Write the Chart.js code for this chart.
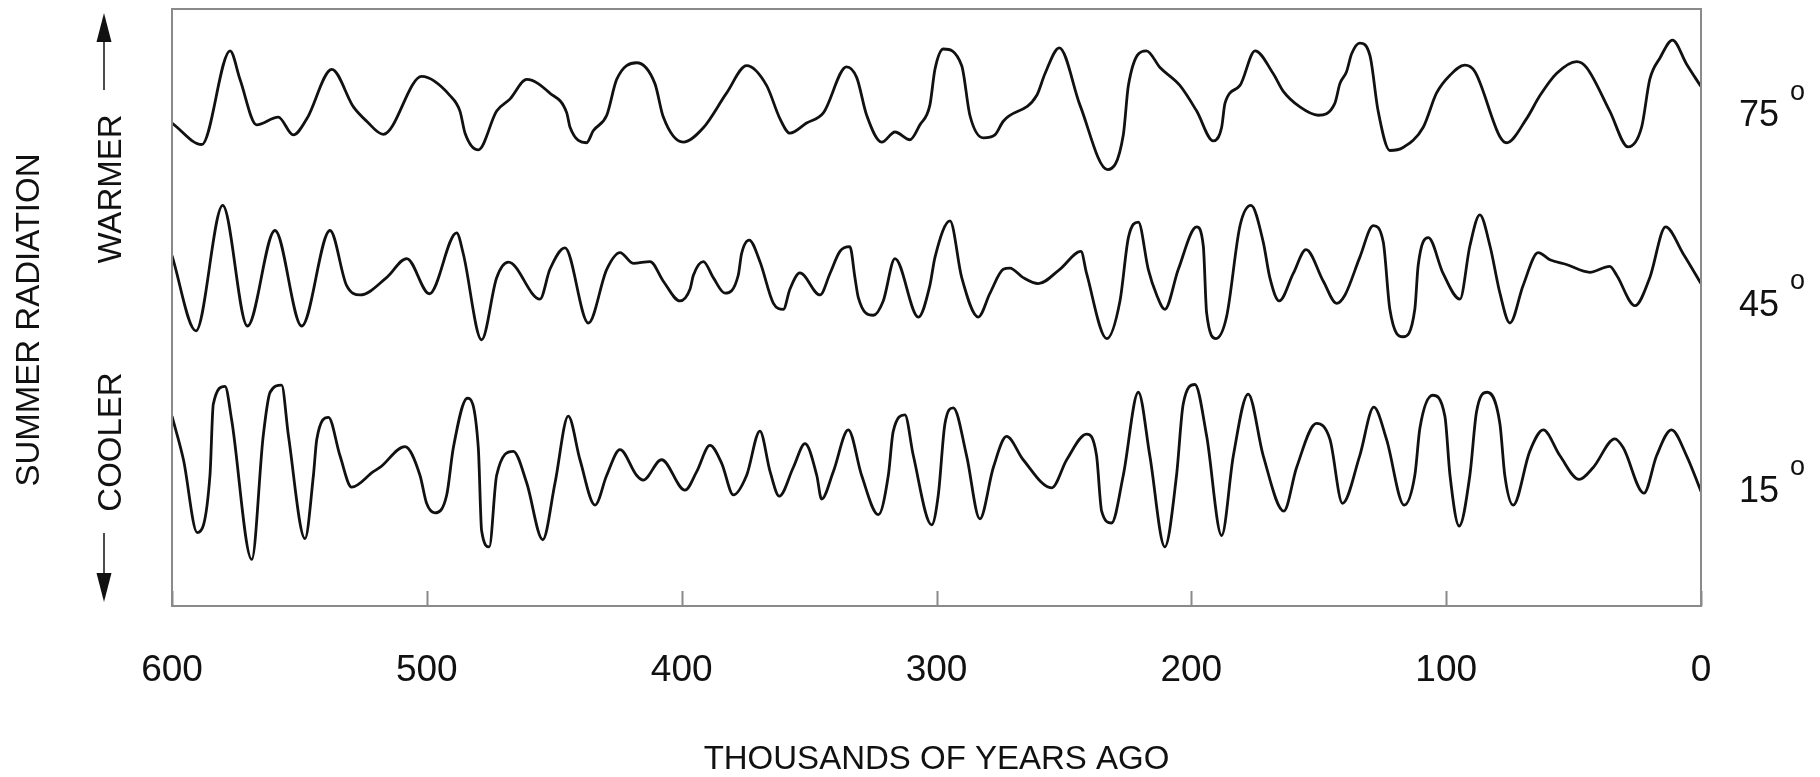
<!DOCTYPE html>
<html>
<head>
<meta charset="utf-8">
<title>Summer radiation</title>
<script src="https://cdn.jsdelivr.net/npm/chart.js@4.4.1/dist/chart.umd.min.js"></script>
<style>
  html,
  body {
    margin: 0;
    padding: 0;
    background: #ffffff;
  }
</style>
</head>
<body>
<canvas id="radiationChart" width="1820" height="777"></canvas>
<script>
// =========================
// 데이터 (천 년 전 / 상대 복사량)
// =========================
const ages75 = [
  600, 588.3, 577.2, 573.3, 566.8, 558.3, 552.4, 547.1, 537.3, 528.8, 523.6, 517.1, 502.0, 490.9, 487.0, 485.0, 479.8, 472.6, 467.4, 460.8, 451.7,
  445.1, 443.8, 437.3, 434.7, 429.4, 425.5, 417.7, 410.5, 407.2, 399.4, 391.5, 382.4, 374.5, 366.7, 361.4, 357.5, 351.0, 344.4, 335.3, 331.3, 327.4, 321.5, 316.3, 310.4,
  306.5, 302.6, 300.6, 297.3, 290.1, 286.9, 281.6, 277.1, 273.8, 260.7, 257.4, 251.8, 243.7, 232.9, 226.7, 224.7, 217.6, 212.3, 204.5, 197.9, 191.4, 188.1, 186.8, 180.9, 175.0, 167.9, 163.9, 157.4,
  150.2, 143.7, 141.7, 139.1, 137.1, 133.9, 129.9, 126.7, 122.1, 116.9, 109.0, 103.8, 98.5, 92.7, 88.7, 78.9, 76.3, 68.5, 63.2, 56.7, 48.8, 44.9, 35.8, 28.6, 23.3, 20.1, 16.1, 11.2, 5.7, 0,
];
const radiation75 = [
  80.9, 77.3, 93.0, 88.2, 80.6, 81.9, 78.9, 81.6, 89.9, 83.6, 81.2, 79.0, 88.7, 85.5, 82.9, 79.2, 76.4, 82.9, 84.9, 88.2, 85.9,
  82.6, 80.2, 77.6, 79.6, 82.2, 88.2, 91.0, 87.5, 81.9, 77.7, 80.1, 85.9, 90.5, 87.2, 81.6, 79.2, 80.9, 82.6, 90.3, 88.5, 82.2, 77.7, 79.4, 78.1,
  80.6, 83.9, 89.9, 93.3, 90.5, 82.2, 78.4, 78.9, 81.2, 85.5, 89.2, 93.5, 83.9, 73.1, 78.9, 87.2, 93.0, 90.2, 87.2, 82.9, 77.9, 80.2, 84.2, 87.2, 93.0, 89.2, 86.2, 83.6,
  82.2, 84.2, 87.5, 89.5, 92.5, 94.3, 92.2, 82.9, 76.3, 76.8, 80.2, 85.9, 88.9, 90.6, 89.5, 78.6, 77.6, 81.6, 85.5, 89.2, 91.2, 90.2, 82.9, 76.9, 80.2, 88.2, 91.8, 94.8, 90.8, 87.0,
];

const ages45 = [
  600, 590.6, 580.1, 570.4, 559.6, 549.1, 538.0, 531.5, 526.2, 515.8, 507.9, 499.0, 488.3, 485.7, 478.5, 472.6, 468.0, 455.6,
  451.7, 445.8, 436.6, 429.4, 424.2, 419.0, 412.4, 407.2, 400.7, 396.7, 395.4, 391.5, 387.6, 383.0, 377.8, 376.5, 373.5, 369.3, 364.0, 360.1, 357.5, 353.6, 345.7, 341.8, 337.9, 334.0, 332.0, 330.7, 324.8, 320.9, 316.3, 307.1,
  302.6, 300.6, 294.7, 290.1, 283.6, 279.0, 273.8, 271.2, 266.0, 260.1, 251.6, 243.3, 241.1, 233.2, 228.0, 224.7, 220.8, 216.9, 213.6, 210.4, 205.1, 197.9, 195.3, 194.0, 190.3, 186.2, 180.9, 176.6, 171.8, 169.2, 165.5, 160.0, 155.0,
  148.2, 143.0, 139.7, 133.9, 128.6, 124.7, 122.1, 116.9, 112.3, 111.0, 107.0, 101.2, 94.6, 90.7, 86.8, 82.8, 78.9, 75.0, 69.8, 63.9, 59.3, 52.8, 43.6, 35.8, 33.1, 25.9, 20.1, 13.9, 7.0, 0,
];
const radiation45 = [
  58.7, 46.1, 67.1, 46.9, 62.9, 46.9, 62.9, 53.7, 52.1, 55.0, 58.2, 52.3, 62.5, 59.0, 44.6, 55.0, 57.6, 51.4,
  56.4, 60.0, 47.4, 56.4, 59.2, 57.4, 57.7, 54.4, 51.1, 53.1, 55.4, 57.7, 55.0, 52.4, 55.4, 59.0, 61.3, 57.7, 50.7, 49.7, 53.1, 55.8, 52.1, 55.7, 59.4, 60.2, 55.0, 51.7, 48.7, 51.1, 58.2, 48.4,
  53.7, 58.4, 64.5, 55.0, 48.4, 52.4, 56.4, 56.6, 55.0, 54.0, 56.4, 59.4, 55.7, 44.8, 51.1, 61.7, 64.3, 56.4, 52.1, 49.7, 56.4, 63.5, 60.3, 49.1, 44.8, 48.4, 63.7, 67.1, 61.0, 55.0, 51.1, 55.7, 59.7,
  54.4, 50.7, 52.1, 58.4, 63.7, 61.0, 49.7, 45.1, 49.7, 57.0, 61.7, 55.7, 51.4, 60.3, 65.5, 60.3, 52.4, 47.4, 53.7, 59.2, 58.0, 57.2, 55.9, 56.9, 55.4, 50.3, 55.0, 63.5, 59.0, 54.0,
];

const ages15 = [
  600, 595.5, 590.1, 585.1, 583.8, 579.2, 576.6, 568.7, 564.2, 561.5, 557.0, 554.3, 547.8, 544.5, 543.2, 538.6, 534.1, 529.5, 521.0, 518.4, 508.6, 502.7, 500.1, 496.8, 492.2, 489.6, 484.1, 479.8, 478.5, 475.5, 472.6, 466.1, 460.8, 454.5,
  449.7, 444.5, 439.9, 434.0, 429.4, 424.2, 417.7, 415.1, 407.9, 398.7, 394.1, 388.9, 384.3, 379.7, 374.5, 369.3, 365.3, 361.7, 356.2, 351.6, 347.0, 345.1, 340.5, 334.6, 329.4, 322.8, 318.9, 317.0, 312.4, 309.1, 301.9,
  299.3, 296.7, 293.4, 288.2, 283.0, 277.7, 272.5, 266.0, 254.8, 248.9, 241.1, 237.2, 235.2, 231.3, 226.7, 220.8, 216.3, 210.4, 205.8, 203.2, 198.6, 194.0, 188.1, 183.5, 177.7, 171.8, 163.7, 158.7,
  150.9, 145.6, 140.7, 133.9, 128.4, 123.4, 116.5, 112.3, 110.3, 105.3, 100.5, 98.5, 94.9, 90.7, 88.1, 83.9, 78.9, 77.0, 73.7, 67.2, 61.9, 55.4, 47.8, 42.3, 33.8, 30.5, 22.4, 17.4, 11.6, 5.7, 0,
];
const radiation15 = [
  31.8, 24.5, 12.3, 21.9, 33.8, 36.8, 31.2, 7.8, 28.5, 35.8, 37.0, 28.5, 11.3, 21.9, 27.9, 31.6, 25.2, 19.9, 22.5, 23.2, 26.7, 21.9, 17.2, 15.6, 18.6, 26.5, 34.8, 26.5, 12.6, 9.9, 21.9, 25.9, 20.6, 11.1,
  20.6, 31.8, 24.5, 16.9, 21.9, 26.2, 21.9, 21.1, 24.5, 19.4, 22.5, 26.9, 23.9, 18.6, 21.9, 29.3, 22.5, 18.4, 23.2, 27.2, 21.9, 17.9, 22.5, 29.5, 21.9, 15.3, 21.9, 29.2, 32.0, 25.2, 13.6,
  18.6, 30.5, 33.2, 25.2, 14.6, 23.2, 28.4, 24.5, 19.8, 24.5, 28.8, 25.2, 15.9, 13.9, 21.9, 35.8, 25.2, 9.9, 21.9, 33.8, 37.1, 28.5, 11.8, 25.2, 35.5, 25.2, 15.9, 23.2,
  30.6, 27.9, 17.2, 25.2, 33.3, 27.9, 16.9, 21.9, 29.8, 35.3, 31.8, 21.9, 13.4, 21.9, 32.5, 35.8, 30.5, 21.9, 16.9, 25.9, 29.5, 25.2, 21.2, 23.2, 28.0, 26.5, 18.9, 25.2, 29.5, 25.2, 19.2,
];

// 오른쪽 위도 라벨 (곡선 높이 기준)
const latitudeLabels = ["75", "45", "15"];
const latitudeLevels = [82.0, 50.3, 19.1];

const xTitle = "THOUSANDS OF YEARS AGO";
const yTitle = "SUMMER RADIATION";
const warmerText = "WARMER";
const coolerText = "COOLER";

const FONT = '"Liberation Sans", Arial, Helvetica, sans-serif';
const INK = "#111111";
const FRAME = "#8a8a8a";

// =========================
// 공통 유틸 함수
// =========================
function toPoints(ages, values) {
  return ages.map((age, i) => ({ x: age, y: values[i] }));
}

function makeCurve(label, ages, values) {
  return {
    label,
    data: toPoints(ages, values),
    borderColor: INK,
    borderWidth: 2.8,
    pointRadius: 0,
    fill: false,
    cubicInterpolationMode: "monotone",
  };
}

function drawVerticalText(ctx, text, x, y) {
  ctx.save();
  ctx.translate(x, y);
  ctx.rotate(-Math.PI / 2);
  ctx.textAlign = "center";
  ctx.textBaseline = "middle";
  ctx.fillText(text, 0, 0);
  ctx.restore();
}

function drawArrow(ctx, x, fromY, tipY) {
  const dir = tipY < fromY ? -1 : 1;
  const headLen = 29;
  ctx.beginPath();
  ctx.moveTo(x, fromY);
  ctx.lineTo(x, tipY - dir * headLen);
  ctx.stroke();

  ctx.beginPath();
  ctx.moveTo(x, tipY);
  ctx.lineTo(x - 7.5, tipY - dir * headLen);
  ctx.lineTo(x + 7.5, tipY - dir * headLen);
  ctx.closePath();
  ctx.fill();
}

// =========================
// 테두리, 눈금, 주석 플러그인
// =========================
const framePlugin = {
  id: "frame",
  afterDatasetsDraw(chart) {
    const { ctx, chartArea, scales } = chart;
    const { left, right, top, bottom } = chartArea;

    ctx.save();

    // 플롯 테두리
    ctx.strokeStyle = FRAME;
    ctx.lineWidth = 2;
    ctx.strokeRect(left, top, right - left, bottom - top);

    // 아래쪽 안쪽 눈금
    ctx.beginPath();
    scales.x.ticks.forEach((tick) => {
      const px = Math.round(scales.x.getPixelForValue(tick.value)) + 0.5;
      ctx.moveTo(px, bottom);
      ctx.lineTo(px, bottom - 15);
    });
    ctx.stroke();

    // 위도 라벨
    ctx.fillStyle = INK;
    ctx.textAlign = "left";
    ctx.textBaseline = "middle";
    latitudeLabels.forEach((label, i) => {
      const py = scales.y.getPixelForValue(latitudeLevels[i]);
      ctx.font = `36px ${FONT}`;
      ctx.fillText(label, right + 38, py);
      ctx.font = `27px ${FONT}`;
      ctx.fillText("o", right + 89, py - 24);
    });

    // 왼쪽 세로 제목
    ctx.font = `33px ${FONT}`;
    drawVerticalText(ctx, yTitle, 30, 320);
    drawVerticalText(ctx, warmerText, 112, 189);
    drawVerticalText(ctx, coolerText, 112, 442);

    // 화살표
    ctx.strokeStyle = INK;
    ctx.lineWidth = 1.5;
    drawArrow(ctx, 104, 90, 13);
    drawArrow(ctx, 104, 533, 602);

    ctx.restore();
  },
};

// =========================
// 차트 렌더링
// =========================
function renderRadiationChart() {
  const canvas = document.querySelector("#radiationChart");

  if (!canvas || typeof Chart === "undefined") {
    return;
  }

  new Chart(canvas.getContext("2d"), {
    type: "line",
    data: {
      datasets: [
        makeCurve("75", ages75, radiation75),
        makeCurve("45", ages45, radiation45),
        makeCurve("15", ages15, radiation15),
      ],
    },
    options: {
      responsive: false,
      animation: false,
      devicePixelRatio: 1,
      layout: {
        padding: { left: 172, right: 119, top: 9, bottom: 0 },
      },
      plugins: {
        legend: { display: false },
        tooltip: { enabled: false },
      },
      scales: {
        x: {
          type: "linear",
          min: 0,
          max: 600,
          reverse: true,
          grid: { display: false },
          border: { display: false },
          ticks: {
            stepSize: 100,
            color: INK,
            padding: 35,
            maxRotation: 0,
            font: { family: FONT, size: 37 },
          },
          title: {
            display: true,
            text: xTitle,
            color: INK,
            padding: { top: 0, bottom: -3 },
            font: { family: FONT, size: 33 },
          },
          afterFit: (scale) => {
            scale.height = 171;
          },
        },
        y: {
          display: false,
          min: 0,
          max: 100,
        },
      },
    },
    plugins: [framePlugin],
  });
}

renderRadiationChart();
</script>
</body>
</html>
